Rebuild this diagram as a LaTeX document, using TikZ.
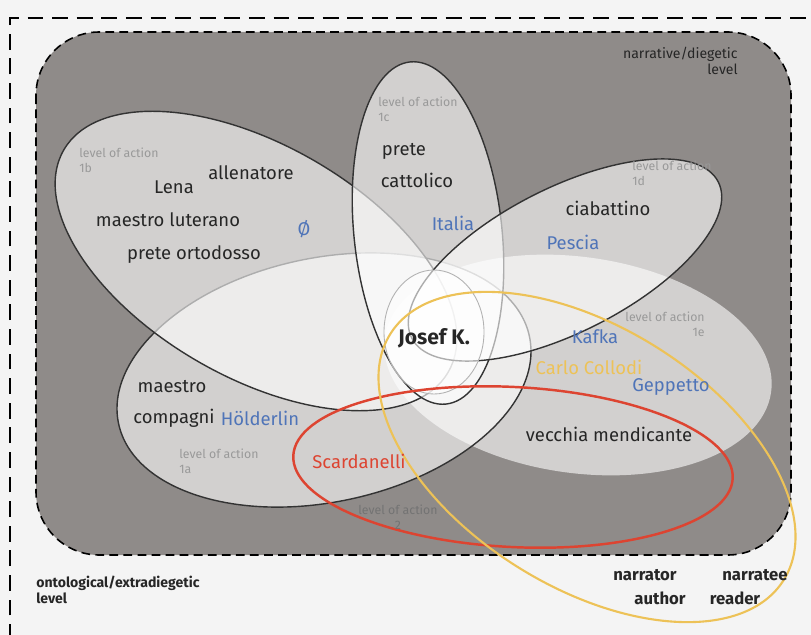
\documentclass[tikz,border=0pt]{standalone}
\usepackage{fontspec}
\setmainfont{Fira Sans}
\usetikzlibrary{positioning}

\definecolor{bgpaper}{HTML}{F4F4F4}
\definecolor{diegetic}{HTML}{8F8B89}
\definecolor{placeblue}{HTML}{4F74B8}
\definecolor{authorred}{HTML}{DD4431}
\definecolor{authoryellow}{HTML}{EDC257}
\definecolor{inkgray}{HTML}{262626}

\tikzset{
  lvl/.style={fill=white, fill opacity=0.6, draw=black!80, draw opacity=1, line width=0.8pt},
  lvltag/.style={text=black!40, font=\fontsize{7}{8}\selectfont, align=left, anchor=north west, inner sep=0pt},
  who/.style={text=inkgray, font=\fontsize{10.5}{12}\selectfont, inner sep=0pt},
  where/.style={text=placeblue, font=\fontsize{10.5}{12}\selectfont, inner sep=0pt},
  frametag/.style={text=inkgray, font=\fontsize{8}{9}\selectfont, inner sep=0pt},
  instance/.style={text=inkgray, font=\fontsize{9.5}{11}\selectfont\bfseries, inner sep=0pt},
}

\begin{document}
\begin{tikzpicture}[x=0.02cm, y=-0.02cm]
    % fissa le dimensioni della figura
    \useasboundingbox (0,0) rectangle (811,635);
    \fill[bgpaper] (0,0) rectangle (811,635);

    % livello extradiegetico (cornice esterna)
    \draw[line width=1.6pt, dash pattern=on 9pt off 5pt] (10,640) -- (10,18) -- (820,18);

    % livello diegetico
    \draw[fill=diegetic, line width=0.9pt, dash pattern=on 5pt off 3pt, rounded corners=36pt]
        (36,32) rectangle (791,555);

    % livelli d'azione
    \fill[lvl, draw=none] (578,365) ellipse [x radius=195, y radius=108, rotate=-8];
    \draw[lvl] (324,380) ellipse [x radius=210, y radius=122, rotate=12];
    \draw[lvl] (256,261) ellipse [x radius=222, y radius=116, rotate=-30];
    \draw[lvl] (428,233) ellipse [x radius=74, y radius=172, rotate=6];
    \draw[lvl] (565,260) ellipse [x radius=172, y radius=72, rotate=27];
    \draw[lvl, draw=black!30, line width=0.5pt] (434,332) ellipse [x radius=50, y radius=62];

    % livello d'azione 2 e autore/lettore
    \draw[authorred, line width=1.4pt] (513,467) ellipse [x radius=220, y radius=80, rotate=-3];
    \draw[authoryellow, line width=1.2pt] (587,457) ellipse [x radius=232, y radius=130, rotate=-32];

    % etichette dei livelli
    \node[frametag, align=right, anchor=north east] (diegtag) at (738,47) {narrative/diegetic\\level};
    \node[frametag, font=\fontsize{8}{9}\selectfont\bfseries, align=left, anchor=north west] (extratag) at (36,576) {ontological/extradiegetic\\level};
    \node[lvltag] (tag1b) at (79,148) {level of action\\1b};
    \node[lvltag] (tag1c) at (378,97) {level of action\\1c};
    \node[lvltag] (tag1d) at (632,161) {level of action\\1d};
    \node[lvltag, align=right, anchor=north east] (tag1e) at (705,312) {level of action\\1e};
    \node[lvltag] (tag1a) at (179,449) {level of action\\1a};
    \node[lvltag, align=center, anchor=north, text=black!55] (tag2) at (398,505) {level of action\\2};

    % personaggi
    \node[who] (lena) at (174,187) {Lena};
    \node[who] (allenatore) at (251,173) {allenatore};
    \node[who] (luterano) at (168,220) {maestro luterano};
    \node[where] (nulla) at (304,229) {Ø};
    \node[who] (ortodosso) at (194,255) {prete ortodosso};
    \node[who] (prete) at (404,151) {prete};
    \node[who] (cattolico) at (417,180) {cattolico};
    \node[where] (italia) at (453,223) {Italia};
    \node[who] (ciabattino) at (608,208) {ciabattino};
    \node[where] (pescia) at (573,242) {Pescia};
    \node[who, font=\fontsize{12}{14}\selectfont\bfseries] (josef) at (434,338) {Josef K.};
    \node[where] (kafka) at (595,337) {Kafka};
    \node[who, text=authoryellow] (collodi) at (589,367) {Carlo Collodi};
    \node[where] (geppetto) at (671,387) {Geppetto};
    \node[who] (mendicante) at (609,434) {vecchia mendicante};
    \node[who] (maestro) at (172,387) {maestro};
    \node[who] (compagni) at (174,418) {compagni};
    \node[where] (holderlin) at (260,418) {Hölderlin};
    \node[who, text=authorred] (scardanelli) at (359,461) {Scardanelli};

    % istanze narrative
    \node[instance] (narrator) at (645,575) {narrator};
    \node[instance] (author) at (660,598) {author};
    \node[instance] (narratee) at (755,575) {narratee};
    \node[instance] (reader) at (735,598) {reader};
\end{tikzpicture}
\end{document}
